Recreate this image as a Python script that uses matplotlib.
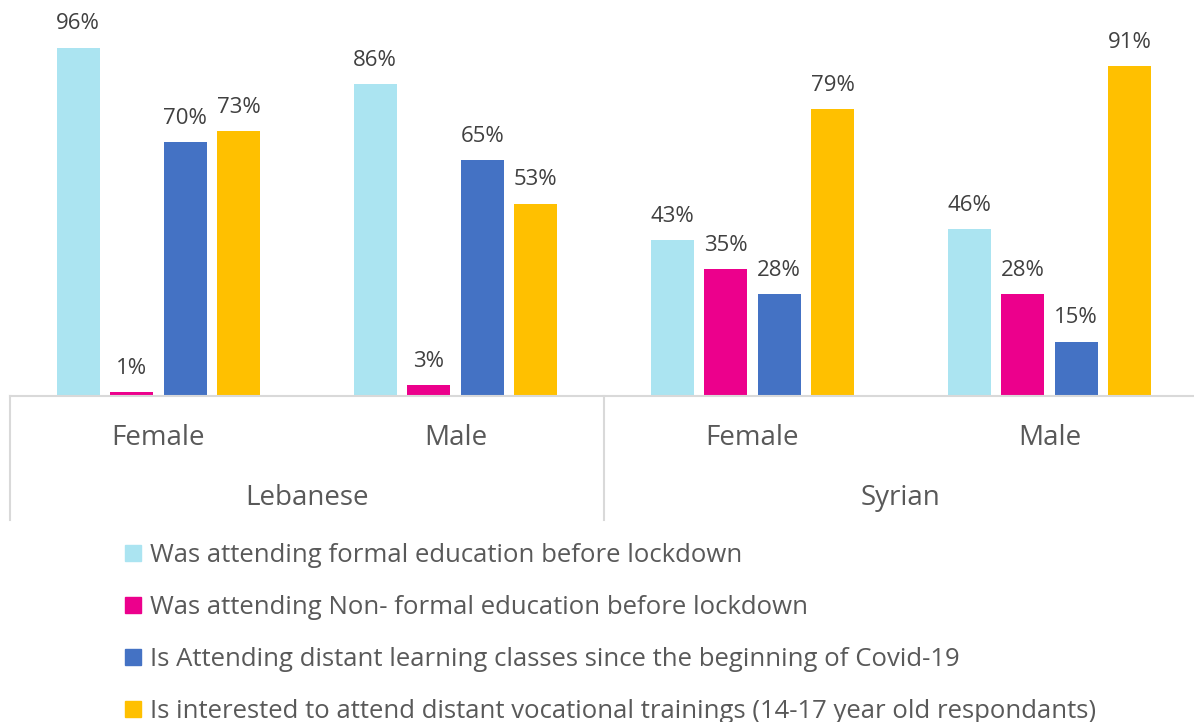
import matplotlib.pyplot as plt
from matplotlib.patches import Patch

nationalities = ["Lebanese", "Syrian"]
genders = ["Female", "Male", "Female", "Male"]
series_names = [
    "Was attending formal education before lockdown",
    "Was attending Non- formal education before lockdown",
    "Is Attending distant learning classes since the beginning of Covid-19",
    "Is interested to attend distant vocational trainings (14-17 year old respondants)",
]
formal = [96, 86, 43, 46]
non_formal = [1, 3, 35, 28]
distant = [70, 65, 28, 15]
vocational = [73, 53, 79, 91]
colors = ["#ABE4F1", "#EC008C", "#4472C4", "#FFC000"]

plt.rcParams["font.family"] = ["Open Sans", "DejaVu Sans"]
grey = "#595959"

fig = plt.figure(figsize=(11.94, 7.22), dpi=100)
ax = fig.add_axes([10 / 1194, (722 - 396) / 722, 1188 / 1194, 363 / 722])

step = 0.18
width = 0.145
for i, vals in enumerate([formal, non_formal, distant, vocational]):
    xs = [g + (i - 1.5) * step for g in range(4)]
    ax.bar(xs, vals, width=width, color=colors[i])
    for x, v in zip(xs, vals):
        ax.text(x, v + 5, f"{v}%", ha="center", va="baseline",
                fontsize=16, color="#404040", clip_on=False)

ax.set_xlim(-0.5, 3.5)
ax.set_ylim(0, 100)
ax.set_yticks([])
ax.set_xticks([])
for s in ["top", "right", "left"]:
    ax.spines[s].set_visible(False)
ax.spines["bottom"].set_color("#D9D9D9")
ax.spines["bottom"].set_linewidth(1.5)

tr = ax.get_xaxis_transform()
for g, lab in enumerate(genders):
    ax.text(g, -0.116, lab, transform=tr, ha="center", va="center",
            fontsize=20, color=grey)
for k, lab in enumerate(nationalities):
    ax.text(0.5 + 2 * k, -0.281, lab, transform=tr, ha="center", va="center",
            fontsize=20, color=grey)
for xsep in [-0.5, 1.5, 3.5]:
    ax.plot([xsep, xsep], [0, -0.342], transform=tr, color="#D9D9D9",
            lw=1.5, clip_on=False)

handles = [Patch(color=c) for c in colors]
fig.legend(handles, series_names, loc="upper left",
           bbox_to_anchor=(102 / 1194, 1 - 520 / 722), frameon=False,
           fontsize=18.5, handlelength=0.62, handleheight=0.62,
           handletextpad=0.35, labelspacing=1.05, labelcolor=grey)

fig.savefig("out.png", dpi=100)
